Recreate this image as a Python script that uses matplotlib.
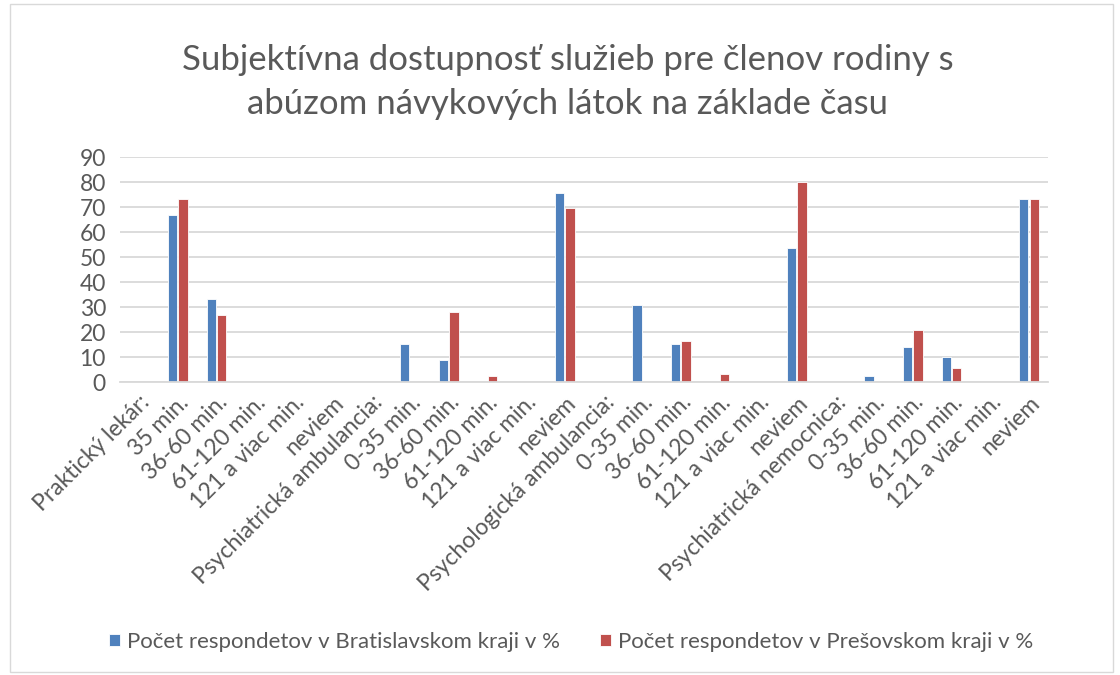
import matplotlib
matplotlib.use("Agg")
import matplotlib.pyplot as plt
import numpy as np

plt.rcParams['font.family'] = ['Lato', 'DejaVu Sans']

categories = ['Praktický lekár:', '35 min.', '36-60 min.', '61-120 min.', '121 a viac min.', 'neviem',
              'Psychiatrická ambulancia:', '0-35 min.', '36-60 min.', '61-120 min.', '121 a viac min.', 'neviem',
              'Psychologická ambulancia:', '0-35 min.', '36-60 min.', '61-120 min.', '121 a viac min.', 'neviem',
              'Psychiatrická nemocnica:', '0-35 min.', '36-60 min.', '61-120 min.', '121 a viac min.', 'neviem']
bratislava = [0, 66.7, 33.3, 0, 0, 0,
              0, 15.4, 9.0, 0, 0, 75.7,
              0, 30.7, 15.4, 0, 0, 53.8,
              0, 2.4, 14.1, 10.2, 0, 73.1]
presov = [0, 73.3, 26.7, 0, 0, 0,
          0, 0, 28.0, 2.3, 0, 69.8,
          0, 0, 16.3, 3.3, 0, 80.2,
          0, 0, 20.9, 5.8, 0, 73.1]
series_names = ['Počet respondetov v Bratislavskom kraji v %',
                'Počet respondetov v Prešovskom kraji v %']
title = 'Subjektívna dostupnosť služieb pre členov rodiny s\nabúzom návykových látok na základe času'

blue = '#4F81BD'
red = '#C0504D'
gray = '#595959'

fig = plt.figure(figsize=(11.2, 6.75), dpi=100)
ax = fig.add_axes([0.107, 0.434, 0.829, 0.333])

x = np.arange(len(categories))
w = 0.24
ax.bar(x - 0.135, bratislava, w, color=blue, edgecolor='white', linewidth=0.6, label=series_names[0])
ax.bar(x + 0.135, presov, w, color=red, edgecolor='white', linewidth=0.6, label=series_names[1])

ax.set_xlim(-0.5, len(categories) - 0.5)
ax.set_ylim(0, 90)
ax.set_yticks(range(0, 91, 10))
ax.yaxis.grid(True, color='#d9d9d9', linewidth=1.3)
ax.set_axisbelow(True)
for s in ['top', 'right', 'left']:
    ax.spines[s].set_visible(False)
ax.spines['bottom'].set_color('#d9d9d9')
ax.spines['bottom'].set_linewidth(1.3)
ax.tick_params(axis='both', length=0, colors=gray, labelsize=16.5)
ax.tick_params(axis='y', pad=10)
ax.set_xticks(x)
ax.set_xticklabels(categories, rotation=45, ha='right', rotation_mode='anchor')
ax.tick_params(axis='x', pad=7)

fig.text(0.507, 0.879, title, ha='center', va='center', fontsize=25, color=gray, linespacing=1.45)

fig.legend(loc='center', bbox_to_anchor=(0.51, 0.049), ncol=2, frameon=False,
           fontsize=16, labelcolor=gray, handlelength=0.5, handleheight=0.5,
           handletextpad=0.3, columnspacing=1.8)

fig.patches.append(plt.Rectangle((0.009, 0.004), 0.985, 0.99, transform=fig.transFigure,
                                 fill=False, edgecolor='#d9d9d9', linewidth=1))

fig.savefig('out.png', dpi=100, facecolor='white')
